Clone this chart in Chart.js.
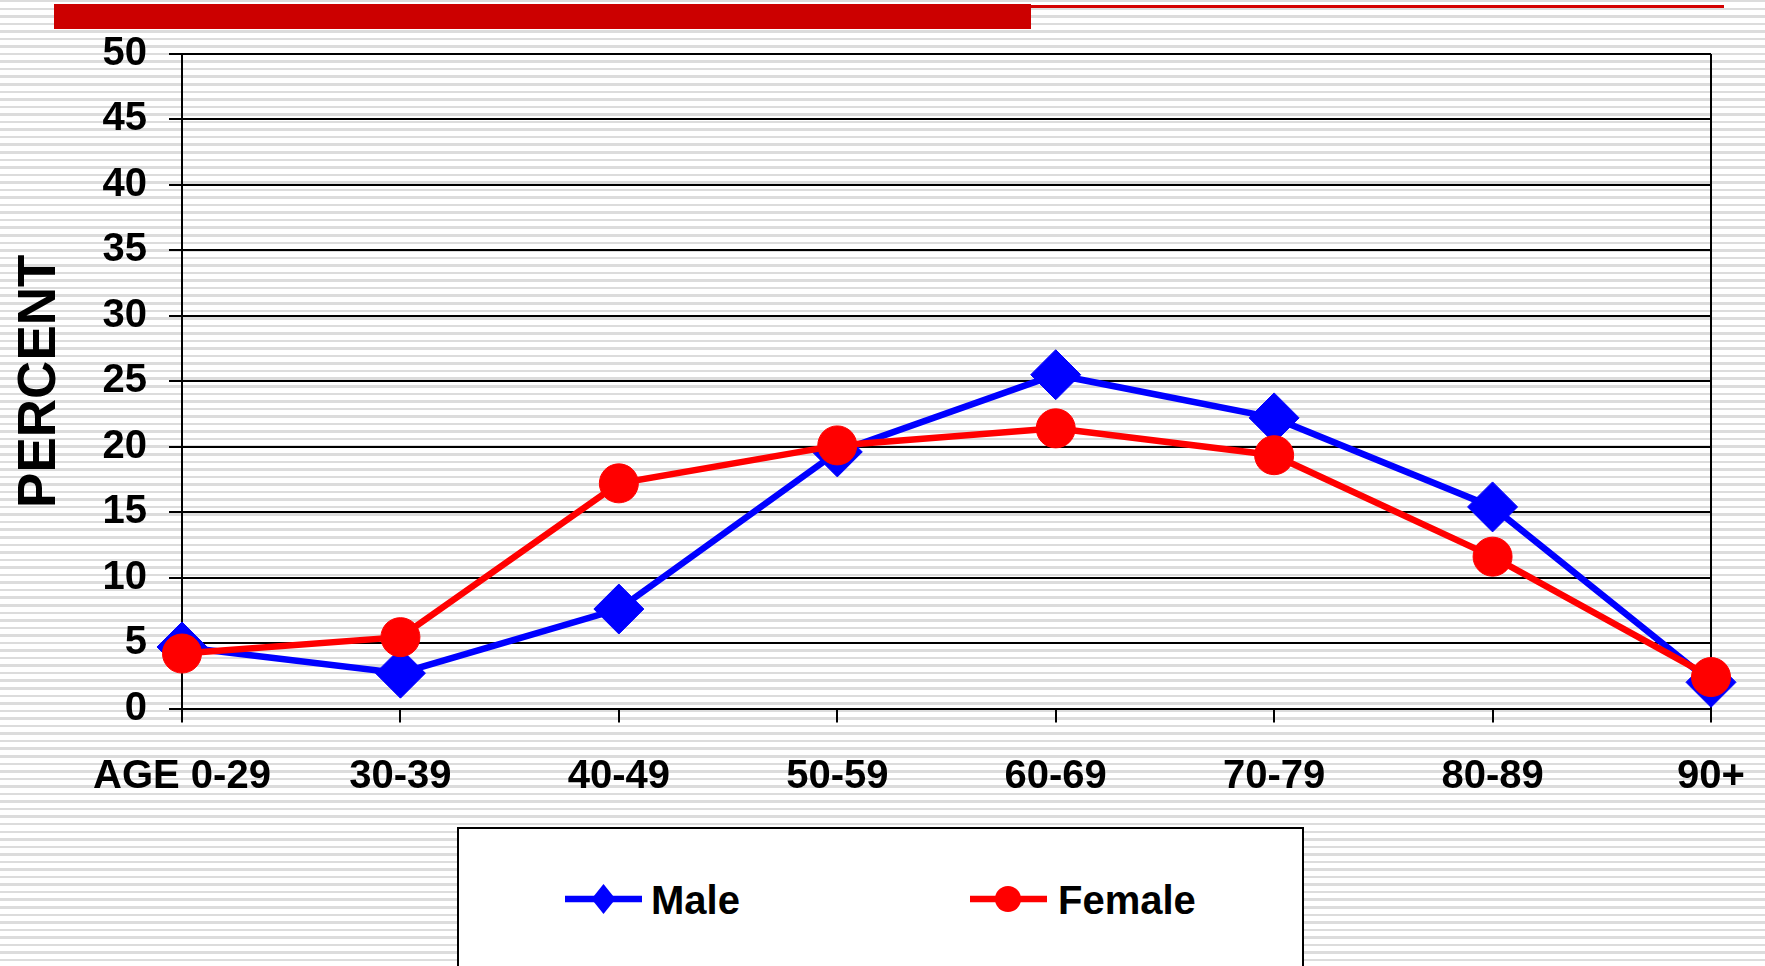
<!DOCTYPE html>
<html>
<head>
<meta charset="utf-8">
<script src="https://cdn.jsdelivr.net/npm/chart.js@4/dist/chart.umd.min.js"></script>
<style>
html,body{margin:0;padding:0;}
body{width:1765px;height:966px;overflow:hidden;position:relative;
  background: repeating-linear-gradient(to bottom, #dcdcdc 0px, #dcdcdc 2.5px, #ffffff 2.5px, #ffffff 7.55px);
  font-family:"Liberation Sans", Arial, sans-serif;}
#thin{position:absolute;left:54px;top:5px;width:1670px;height:2.5px;background:#d40000;}
#bar{position:absolute;left:54px;top:4px;width:977px;height:25px;background:#cc0000;}
#wrap{position:absolute;left:0;top:0;width:1765px;height:820px;}
#legend{position:absolute;left:457px;top:827px;width:847px;height:200px;background:#fff;border:2px solid #000;box-sizing:border-box;}
#legend svg{position:absolute;top:54px;}
#legend .lbl{position:absolute;top:47px;font:bold 40px "Liberation Sans", Arial, sans-serif;line-height:48px;color:#000;white-space:nowrap;}
</style>
</head>
<body>
<div id="thin"></div>
<div id="bar"></div>
<div id="wrap"><canvas id="c"></canvas></div>
<div id="legend">
  <svg style="left:106px" width="77" height="32" viewBox="0 0 77 32">
    <line x1="0" y1="16" x2="77" y2="16" stroke="#0000ff" stroke-width="6.5"/>
    <polygon points="38.5,1 50.5,16 38.5,31 26.5,16" fill="#0000ff"/>
  </svg>
  <div class="lbl" style="left:192px">Male</div>
  <svg style="left:511px" width="77" height="32" viewBox="0 0 77 32">
    <line x1="0" y1="16" x2="77" y2="16" stroke="#ff0000" stroke-width="6.5"/>
    <circle cx="38" cy="16" r="13" fill="#ff0000"/>
  </svg>
  <div class="lbl" style="left:599px">Female</div>
</div>
<script>
const categories = ['AGE 0-29', '30-39', '40-49', '50-59', '60-69', '70-79', '80-89', '90+'];
const maleValues = [4.7, 2.7, 7.6, 19.6, 25.5, 22.2, 15.4, 2.0];
const femaleValues = [4.2, 5.45, 17.2, 20.1, 21.4, 19.35, 11.6, 2.4];
const yTicks = [0, 5, 10, 15, 20, 25, 30, 35, 40, 45, 50];
const yTitle = 'PERCENT';

const tickFont = {family: '"Liberation Sans", Arial, sans-serif', size: 40, weight: 'bold'};

new Chart(document.getElementById('c'), {
  type: 'line',
  data: {
    labels: categories,
    datasets: [
      {
        label: 'Female', data: femaleValues, order: 0, clip: false,
        borderColor: '#ff0000', backgroundColor: '#ff0000', borderWidth: 6.5,
        pointStyle: 'circle', pointRadius: 19.5, pointHoverRadius: 19.5,
        pointBorderWidth: 1, pointBackgroundColor: '#ff0000', pointBorderColor: '#ff0000',
        tension: 0, fill: false
      },
      {
        label: 'Male', data: maleValues, order: 1, clip: false,
        borderColor: '#0000ff', backgroundColor: '#0000ff', borderWidth: 6.5,
        pointStyle: 'rectRot', pointRadius: 25, pointHoverRadius: 25,
        pointBorderWidth: 1, pointBackgroundColor: '#0000ff', pointBorderColor: '#0000ff',
        tension: 0, fill: false
      }
    ]
  },
  options: {
    responsive: true,
    maintainAspectRatio: false,
    animation: false,
    events: [],
    layout: {padding: {top: 54, right: 54, left: 0, bottom: 0}},
    plugins: {legend: {display: false}, tooltip: {enabled: false}, title: {display: false}},
    scales: {
      x: {
        offset: false,
        grid: {
          drawOnChartArea: true,
          color: (ctx) => (ctx.index === categories.length - 1 ? '#000' : 'rgba(0,0,0,0)'),
          tickColor: '#000', lineWidth: 2, tickLength: 14, tickWidth: 2
        },
        border: {display: true, color: '#000', width: 2},
        ticks: {color: '#000', font: tickFont, padding: 30, autoSkip: false, maxRotation: 0, minRotation: 0},
        afterFit: (s) => { s.height = 820 - 708.5; s.paddingLeft = 0; s.paddingRight = 0; }
      },
      y: {
        min: 0, max: 50,
        afterBuildTicks: (s) => { s.ticks = yTicks.map(v => ({value: v})); },
        grid: {color: '#000', lineWidth: 2, tickLength: 13, tickColor: '#000', tickWidth: 2},
        border: {display: true, color: '#000', width: 2},
        ticks: {color: '#000', font: tickFont, padding: 22},
        title: {display: true, text: yTitle, color: '#000',
          font: {family: '"Liberation Sans", Arial, sans-serif', size: 53, weight: 'bold'},
          padding: {top: 8.5, bottom: 0}},
        afterFit: (s) => { s.width = 182; }
      }
    }
  }
});
</script>
</body>
</html>
